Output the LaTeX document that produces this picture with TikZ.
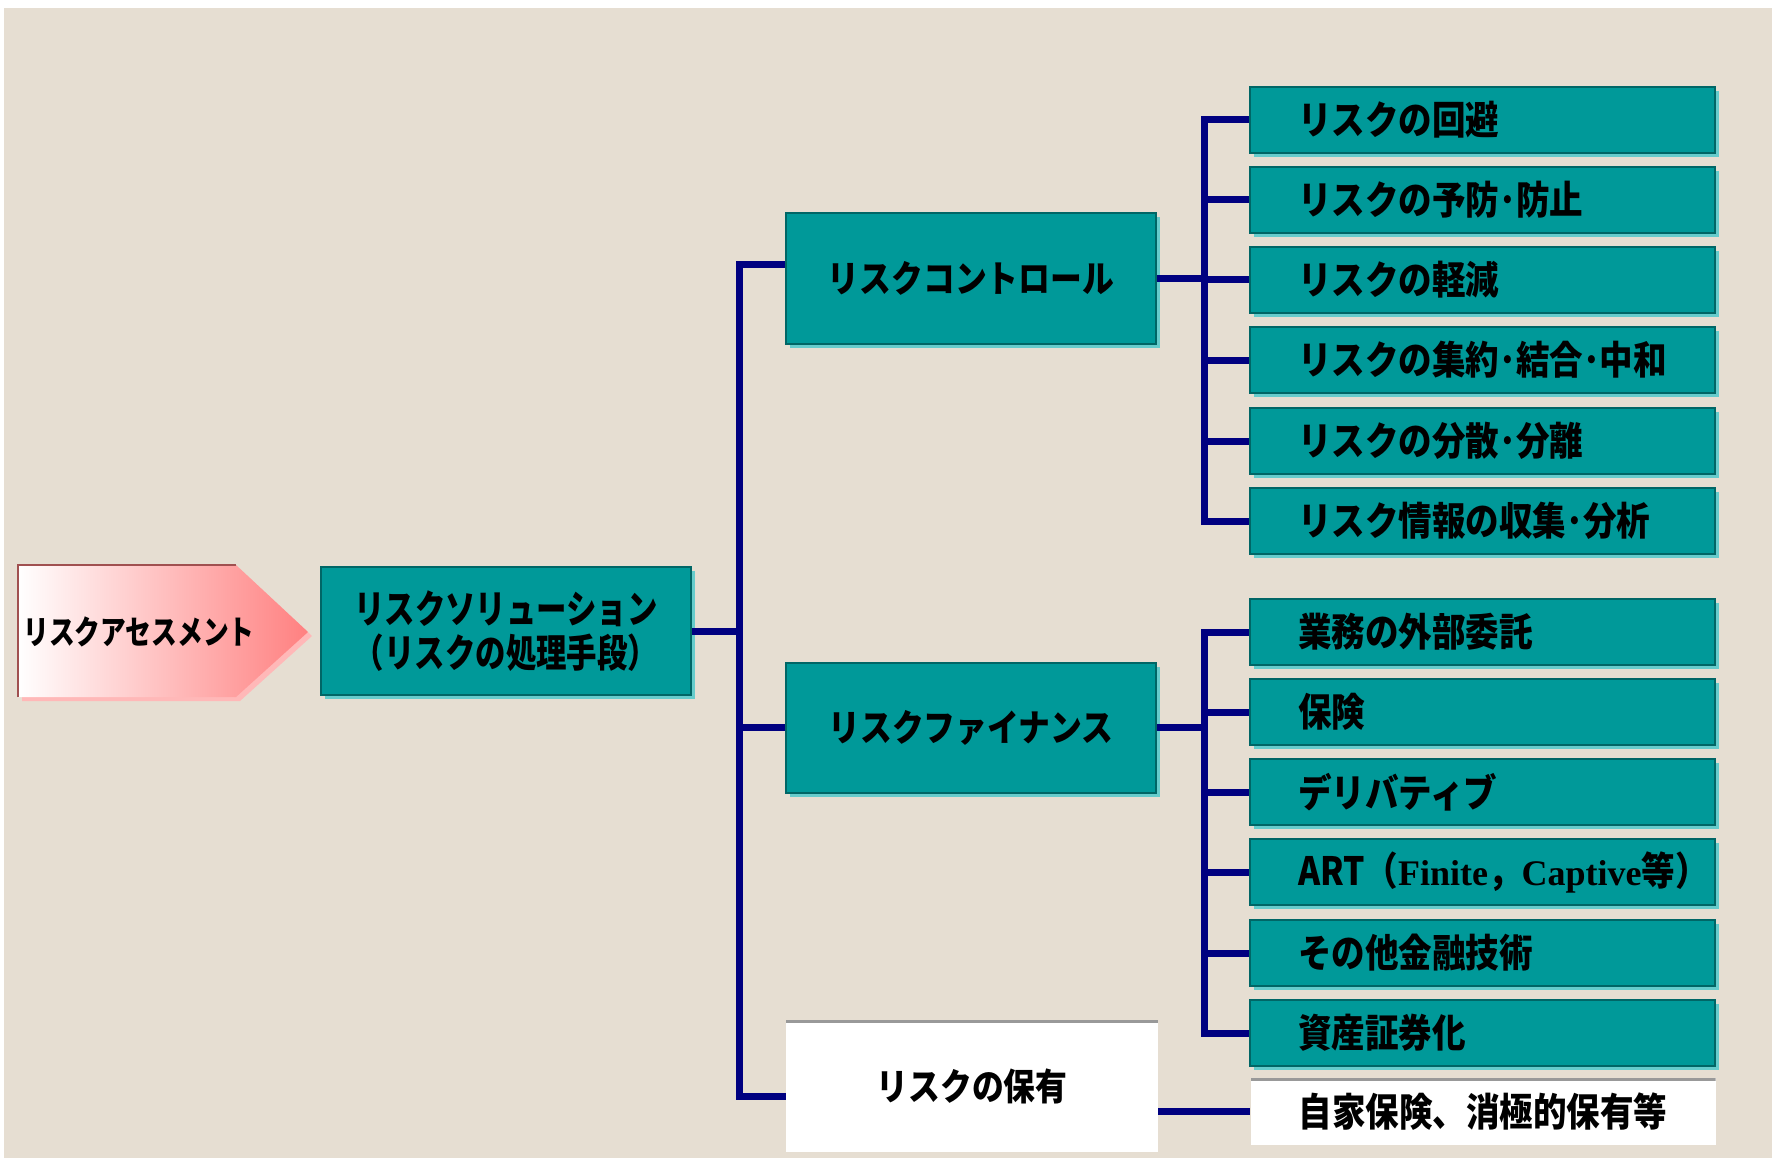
\documentclass[tikz,border=0pt]{standalone}
\usepackage{fontspec}
\usetikzlibrary{shadows}
\newfontfamily\cjk[FakeStretch=0.86]{Noto Sans CJK JP}
\newfontfamily\cjkn[FakeStretch=0.78]{Noto Sans CJK JP}
\newfontfamily\tnr{Liberation Serif}
\definecolor{bg}{HTML}{E6DED2}
\definecolor{tealf}{HTML}{009999}
\definecolor{teald}{HTML}{006666}
\definecolor{teall}{HTML}{66CCCC}
\definecolor{navyl}{HTML}{000080}
\definecolor{pinkr}{HTML}{FF8080}
\definecolor{pinks}{HTML}{FFB8B8}
\definecolor{redd}{HTML}{A05050}
\newcommand{\leaftxt}[1]{\makebox[369pt][l]{#1}}
\begin{document}
\begin{tikzpicture}[x=1pt,y=-1pt,
  tbox/.style={fill=tealf, draw=teald, line width=2pt,
    general shadow={fill=teall, shadow xshift=4pt, shadow yshift=-4pt},
    inner sep=0pt, text=black},
  midbox/.style={tbox, minimum width=370pt, minimum height=130pt,
    font={\cjk\bfseries\fontsize{37}{42}\selectfont}},
  leafbox/.style={tbox, minimum width=465pt, minimum height=66pt, inner xsep=48pt,
    font={\cjk\bfseries\fontsize{39}{44}\selectfont}},
  wbox/.style={fill=white, draw=none, inner sep=0pt, text=black,
    path picture={\draw[gray!80, line width=6pt] (path picture bounding box.north west) -- (path picture bounding box.north east);}},
  conn/.style={draw=navyl, line width=7pt}
]
\useasboundingbox (0,0) rectangle (1772,1158);
\fill[white] (0,0) rectangle (1772,1158);
\fill[bg] (4,8) rectangle (1772,1158);

% assessment arrow
\fill[pinks] (22,569) -- (240,569) -- (312,636) -- (240,701) -- (22,701) -- cycle;
\shade[left color=white, right color=pinkr] (18,565) -- (236,565) -- (308,632) -- (236,697) -- (18,697) -- cycle;
\draw[redd, line width=2pt] (18,697) -- (18,565) -- (236,565);
\node[font={\cjkn\bfseries\fontsize{33}{38}\selectfont}, text=black, inner sep=0pt] (assess) at (139,632) {リスクアセスメント};

% solution
\node[tbox, minimum width=370pt, minimum height=128pt, align=center,
  font={\cjkn\bfseries\fontsize{39}{44}\selectfont}] (sol) at (506,631)
  {リスクソリューション\\（リスクの処理手段）};

% middle boxes
\node[midbox] (ctrl) at (971,278.5) {リスクコントロール};
\node[midbox] (fin) at (971,727.5) {リスクファイナンス};
\node[wbox, minimum width=372pt, minimum height=132pt,
  font={\cjk\bfseries\fontsize{37}{42}\selectfont}] (hold) at (972,1086) {リスクの保有};

% leaf boxes - control
\node[leafbox] (c1) at (1482.5,120) {\leaftxt{リスクの回避}};
\node[leafbox] (c2) at (1482.5,200) {\leaftxt{リスクの予防･防止}};
\node[leafbox] (c3) at (1482.5,280) {\leaftxt{リスクの軽減}};
\node[leafbox] (c4) at (1482.5,360) {\leaftxt{リスクの集約･結合･中和}};
\node[leafbox] (c5) at (1482.5,441) {\leaftxt{リスクの分散･分離}};
\node[leafbox] (c6) at (1482.5,521) {\leaftxt{リスク情報の収集･分析}};
% leaf boxes - finance
\node[leafbox] (f1) at (1482.5,632) {\leaftxt{業務の外部委託}};
\node[leafbox] (f2) at (1482.5,712) {\leaftxt{保険}};
\node[leafbox] (f3) at (1482.5,792) {\leaftxt{デリバティブ}};
\node[leafbox] (f4) at (1482.5,872) {\leaftxt{ART（{\tnr\bfseries\fontsize{36}{42}\selectfont Finite}，{\tnr\bfseries\fontsize{36}{42}\selectfont Captive}等）}};
\node[leafbox] (f5) at (1482.5,953) {\leaftxt{その他金融技術}};
\node[leafbox] (f6) at (1482.5,1033) {\leaftxt{資産証券化}};
% holding detail
\node[wbox, minimum width=465pt, minimum height=67pt, inner xsep=48pt,
  font={\cjk\bfseries\fontsize{39}{44}\selectfont}] (det) at (1483,1111.5) {\leaftxt{自家保険、消極的保有等}};

% connectors
\coordinate (tr) at (739,631);
\coordinate (rt) at (1204,0);
\draw[conn] (sol.east) -- (sol.east -| tr);
\draw[conn] ([yshift=13.5pt]ctrl.west) -| (tr) |- ([yshift=-10pt]hold.west);
\draw[conn] (fin.west) -- (fin.west -| tr);

\draw[conn] (c1.west) -- (c1.west -| rt) -- (c6.west -| rt) -- (c6.west);
\foreach \n in {c2,c3,c4,c5} \draw[conn] (\n.west) -- (\n.west -| rt);
\draw[conn] (ctrl.east) -- (ctrl.east -| rt);

\draw[conn] (f1.west) -- (f1.west -| rt) -- (f6.west -| rt) -- (f6.west);
\foreach \n in {f2,f3,f4,f5} \draw[conn] (\n.west) -- (\n.west -| rt);
\draw[conn] (fin.east) -- (fin.east -| rt);

\draw[conn] (det.west -| hold.east) -- (det.west);
\end{tikzpicture}
\end{document}
